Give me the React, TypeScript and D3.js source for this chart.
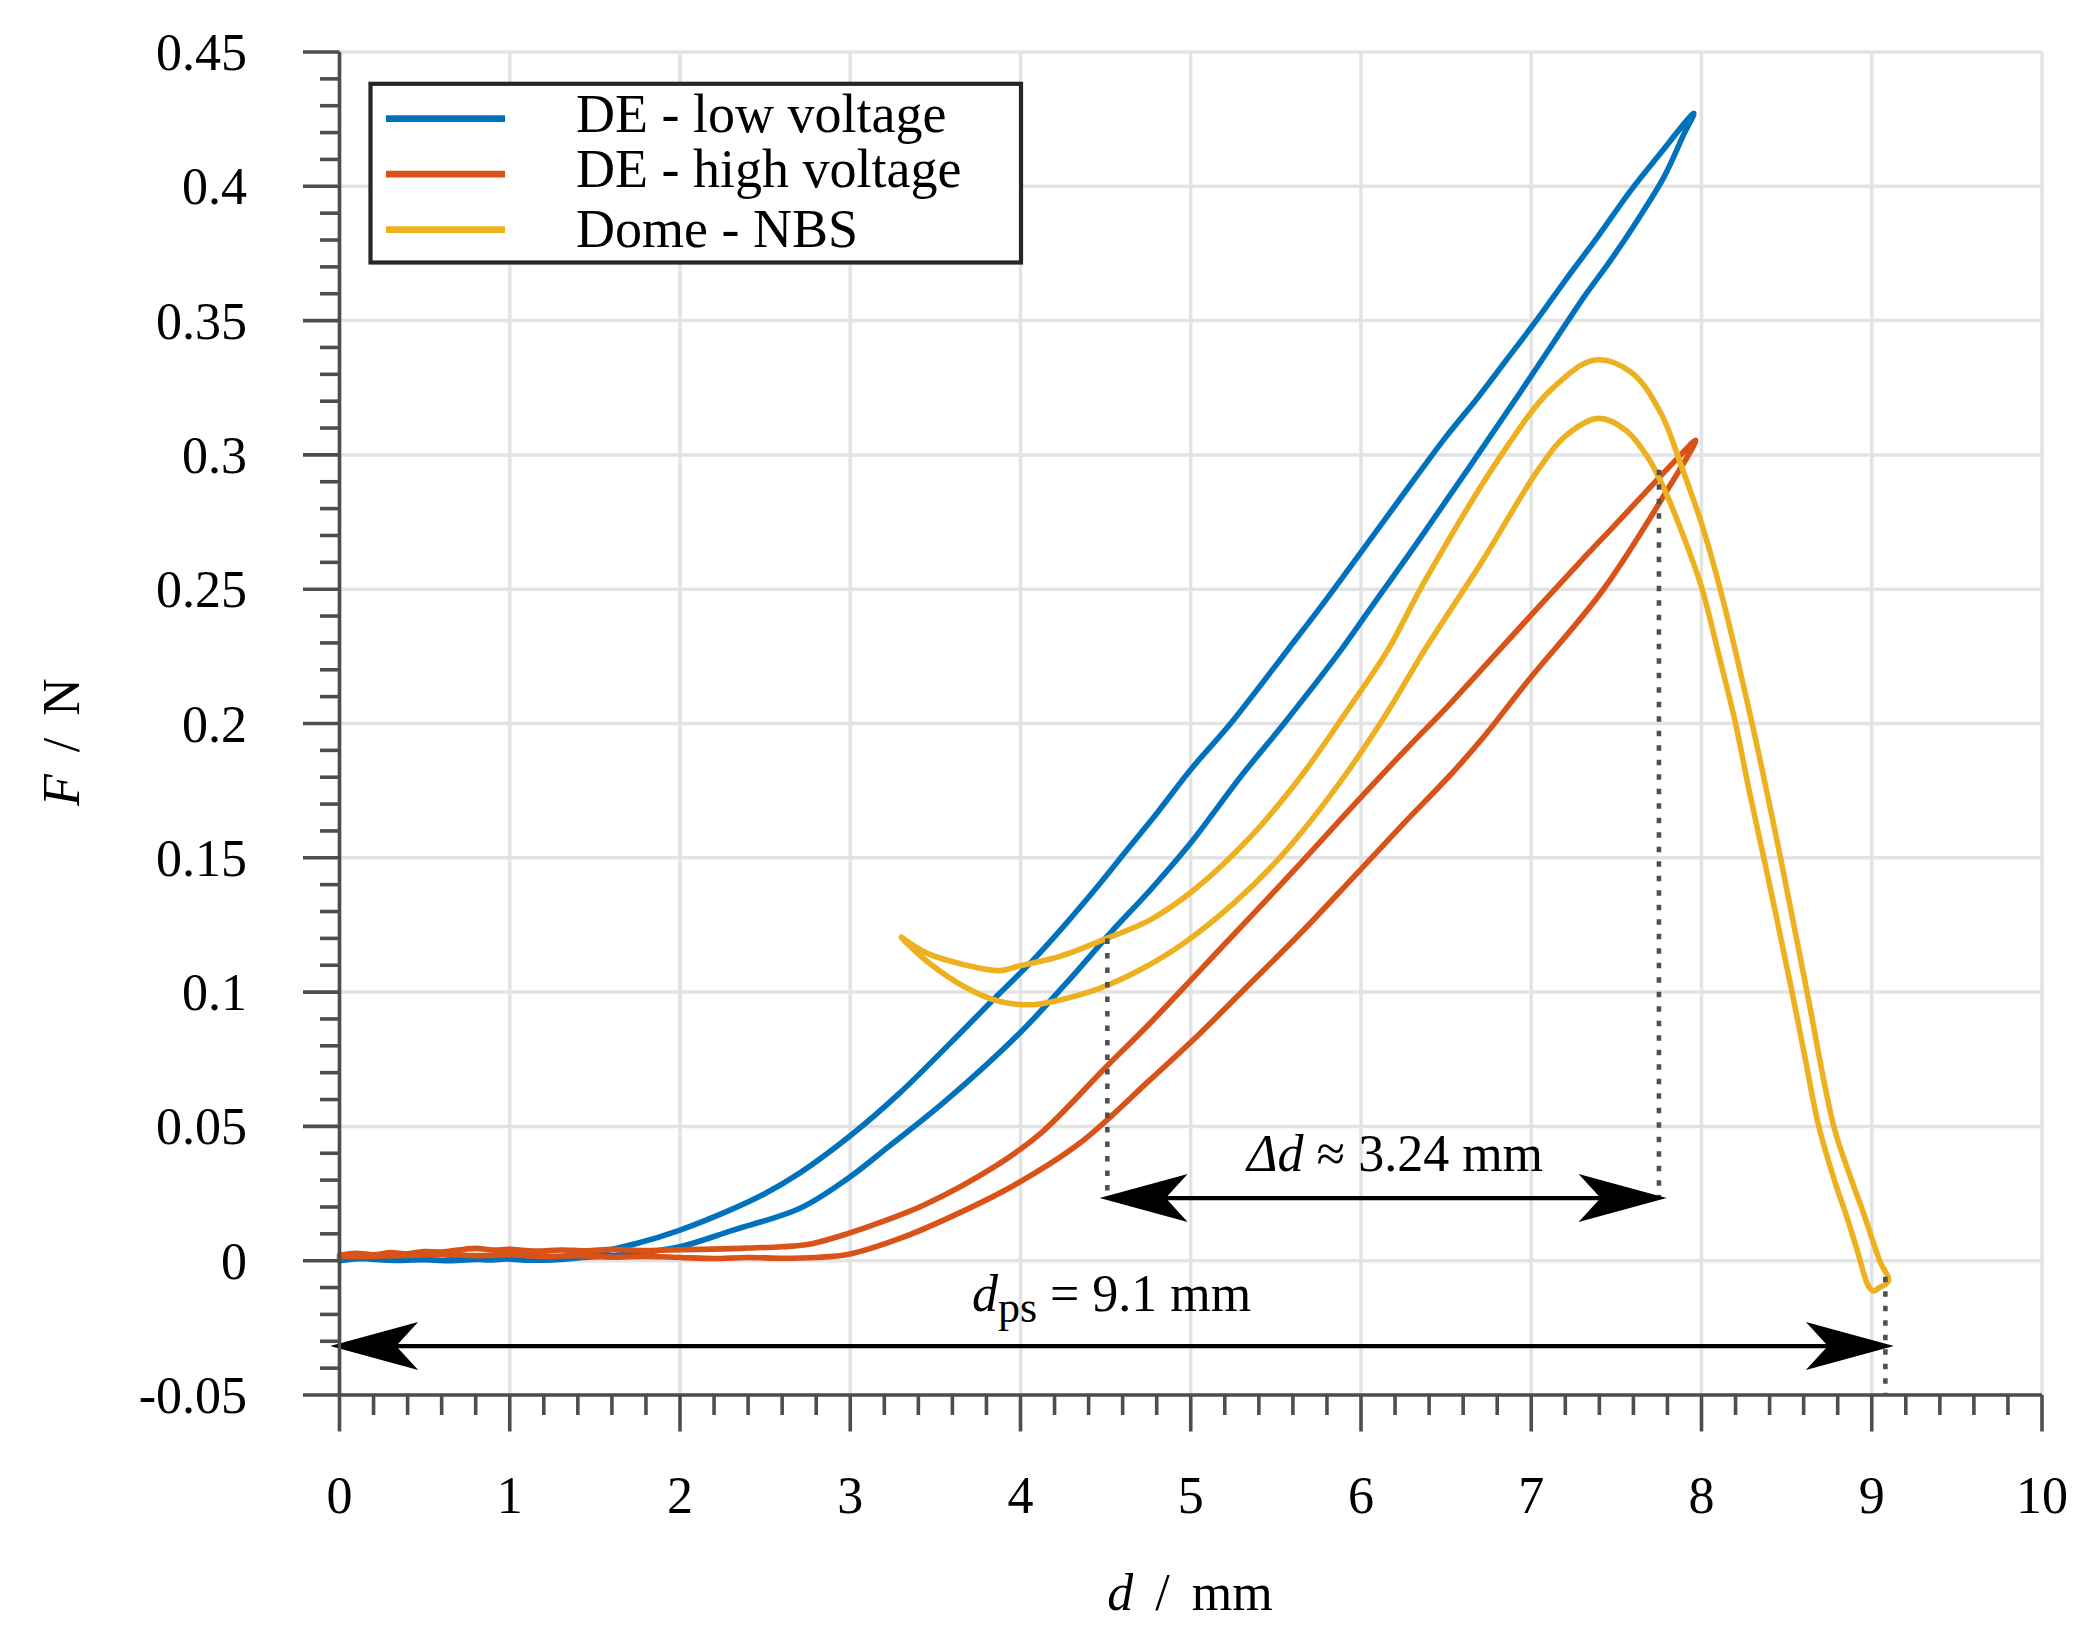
import * as d3 from "d3";

const W = 2096;
const H = 1647;
const FONT = '"Palatino Linotype", Palatino, "Book Antiqua", "Liberation Serif", "DejaVu Serif", serif';

// axis extents and ticks
const xDomain: [number, number] = [0, 10];
const yDomain: [number, number] = [-0.05, 0.45];
const xMajorTicks = [0, 1, 2, 3, 4, 5, 6, 7, 8, 9, 10];
const xTickLabels = ["0", "1", "2", "3", "4", "5", "6", "7", "8", "9", "10"];
const yMajorTicks = [-0.05, 0, 0.05, 0.1, 0.15, 0.2, 0.25, 0.3, 0.35, 0.4, 0.45];
const yTickLabels = ["-0.05", "0", "0.05", "0.1", "0.15", "0.2", "0.25", "0.3", "0.35", "0.4", "0.45"];

// DE - low voltage: out along the upper branch, back along the lower one
const deLowVoltage: [number, number][] = [
  [0, 0.0], [0.15, 0.0008], [0.3, 0.0002], [0.45, 0.0006], [0.6, 0.0001], [0.75, 0.0007],
  [0.9, 0.0003], [1.05, 0.0009], [1.2, 0.0008], [1.35, 0.0018], [1.5, 0.003], [1.75, 0.0065],
  [2.0, 0.0114], [2.3, 0.019], [2.5, 0.025], [2.7, 0.0325], [3.0, 0.0465], [3.285, 0.0621],
  [3.67, 0.0863], [3.878, 0.0996], [4.075, 0.112], [4.27, 0.1257], [4.468, 0.1405], [4.625, 0.1529],
  [4.8, 0.1665], [4.998, 0.1827], [5.234, 0.2], [5.568, 0.2273], [5.8, 0.2465], [6.32, 0.2915],
  [6.5, 0.3068], [6.688, 0.3215], [6.844, 0.3345], [7.039, 0.3508], [7.214, 0.3662], [7.39, 0.3812],
  [7.585, 0.3985], [7.741, 0.4109], [7.955, 0.4272],
  [7.897, 0.4195], [7.78, 0.4035], [7.624, 0.3874], [7.468, 0.3726], [7.312, 0.359], [7.156, 0.3442],
  [6.922, 0.322], [6.37, 0.271], [6.035, 0.241], [5.882, 0.2273], [5.548, 0.2], [5.293, 0.1802],
  [4.998, 0.1554], [4.762, 0.138], [4.527, 0.122], [4.27, 0.1034], [3.996, 0.0848], [3.556, 0.0593],
  [3.22, 0.0422], [2.99, 0.0308], [2.705, 0.0195], [2.313, 0.0114], [2.0, 0.0052], [1.726, 0.0027],
  [1.4, 0.001], [1.25, 0.0003], [1.1, 0.0002], [0.95, 0.0008], [0.8, 0.0005], [0.65, 0.0], [0.5, 0.0004],
  [0.35, 0.0001], [0.2, 0.0005], [0.05, 0.0012], [0, 0.001],
];

// DE - high voltage
const deHighVoltage: [number, number][] = [
  [0, 0.002], [0.1, 0.0028], [0.2, 0.0022], [0.3, 0.003], [0.4, 0.0026], [0.5, 0.0034], [0.6, 0.0032],
  [0.7, 0.004], [0.8, 0.0046], [0.9, 0.004], [1.0, 0.0042], [1.15, 0.0036], [1.3, 0.004], [1.45, 0.0037],
  [1.6, 0.0042], [1.8, 0.0038], [2.0, 0.0041], [2.2, 0.0043], [2.4, 0.0047], [2.6, 0.0052], [2.75, 0.006],
  [2.99, 0.0102], [3.2, 0.0148], [3.44, 0.0209], [3.85, 0.0351], [4.12, 0.0475], [4.507, 0.0724],
  [4.762, 0.0885], [5.057, 0.1083], [5.352, 0.1281], [5.646, 0.148], [5.941, 0.1685], [6.236, 0.1885],
  [6.53, 0.2078], [6.98, 0.239], [7.32, 0.2624], [7.486, 0.2735], [7.857, 0.2986], [7.966, 0.3055],
  [7.79, 0.286], [7.42, 0.2496], [6.98, 0.2158], [6.71, 0.1942], [6.53, 0.1812], [6.236, 0.1618],
  [5.941, 0.1418], [5.646, 0.122], [5.352, 0.1034], [5.057, 0.0848], [4.762, 0.0674], [4.345, 0.0436],
  [3.96, 0.028], [3.6, 0.0166], [3.3, 0.0085], [2.99, 0.0024], [2.8, 0.0012], [2.6, 0.0009],
  [2.4, 0.0012], [2.2, 0.0008], [2.0, 0.0012], [1.8, 0.0016], [1.6, 0.0013], [1.4, 0.0019],
  [1.2, 0.0016], [1.0, 0.0022], [0.8, 0.0019], [0.6, 0.0024], [0.4, 0.002], [0.2, 0.0017], [0, 0.0015],
];

// Dome - NBS: one loop starting at the left corner
const domeNbs: [number, number][] = [
  [3.3, 0.1204], [3.45, 0.1145], [3.62, 0.111], [3.878, 0.108], [3.996, 0.1098], [4.232, 0.1133],
  [4.507, 0.12], [4.762, 0.1269], [5.018, 0.138], [5.352, 0.1579], [5.646, 0.1802], [5.921, 0.205],
  [6.157, 0.2273], [6.37, 0.2525], [6.81, 0.2986], [7.115, 0.3242], [7.375, 0.3353], [7.59, 0.3306],
  [7.76, 0.3157], [7.89, 0.2944], [8.0, 0.2745], [8.11, 0.25], [8.297, 0.2], [8.464, 0.15], [8.62, 0.1],
  [8.777, 0.05], [8.87, 0.032], [8.953, 0.0175], [9.05, -0.0005], [9.1, -0.0072], [9.08, -0.0088],
  [9.04, -0.0102], [9.01, -0.0113], [8.98, -0.0094], [8.914, 0.004], [8.85, 0.017], [8.787, 0.0287],
  [8.689, 0.05], [8.61, 0.075], [8.532, 0.1], [8.45, 0.125], [8.366, 0.15], [8.28, 0.175], [8.2, 0.2],
  [8.1, 0.226], [8.004, 0.25], [7.925, 0.2645], [7.79, 0.286], [7.69, 0.2986], [7.553, 0.3093],
  [7.395, 0.3136], [7.2, 0.307], [7.04, 0.2944], [6.71, 0.2602], [6.373, 0.2273], [6.138, 0.2025],
  [5.843, 0.1752], [5.528, 0.1504], [5.253, 0.1331], [4.959, 0.1182], [4.703, 0.1083], [4.468, 0.1015],
  [4.193, 0.0965], [4.075, 0.0953], [3.878, 0.0965], [3.67, 0.102], [3.45, 0.1115], [3.32, 0.119],
  [3.3, 0.1204],
];

const seriesNames = ["DE - low voltage", "DE - high voltage", "Dome - NBS"];
const seriesColors = ["#0072BD", "#D95319", "#EDB120"];
const seriesData = [deLowVoltage, deHighVoltage, domeNbs];

// annotation geometry, in data units
const guideLines = [
  { x: 4.51, y0: 0.12, y1: 0.0233 },
  { x: 7.75, y0: 0.2945, y1: 0.0233 },
  { x: 9.08, y0: -0.006, y1: -0.05 },
];
const doubleArrows = [
  { x0: 4.465, x1: 7.795, y: 0.0233 },
  { x0: -0.055, x1: 9.13, y: -0.0318 },
];

export default function App() {
  const x = d3.scaleLinear().domain(xDomain).range([339.5, 2042]);
  const y = d3.scaleLinear().domain(yDomain).range([1395, 52]);

  const xMinor = d3.range(0, 10.001, 0.2).filter(v => Math.abs(v - Math.round(v)) > 1e-6);
  const yMinor = d3.range(-0.05, 0.4501, 0.01).filter(v => Math.abs(v * 20 - Math.round(v * 20)) > 1e-6);

  const line = d3.line<[number, number]>()
    .x(d => x(d[0])).y(d => y(d[1]))
    .curve(d3.curveCatmullRom.alpha(0.5));

  const axisColor = "#4d4d4d";
  const gridColor = "#e3e3e3";

  const arrowHead = (tx: number, ty: number, dir: number) =>
    `${tx},${ty} ${tx - dir * 88},${ty - 24} ${tx - dir * 66},${ty} ${tx - dir * 88},${ty + 24}`;

  const [x0, x1] = x.range();
  const [y0, y1] = y.range();

  return (
    <div style={{ position: "absolute", left: 0, top: 0, background: "#fff" }}>
      <svg width={W} height={H} style={{ display: "block" }} fontFamily={FONT} fontSize={52}>
        <rect width={W} height={H} fill="#fff" />

        {/* grid */}
        <g stroke={gridColor} strokeWidth={3.5}>
          {xMajorTicks.map(t => <line key={`gx${t}`} x1={x(t)} x2={x(t)} y1={y1} y2={y0} />)}
          {yMajorTicks.map(t => <line key={`gy${t}`} x1={x0} x2={x1} y1={y(t)} y2={y(t)} />)}
        </g>

        {/* curves */}
        <g fill="none" strokeWidth={5.6} strokeLinejoin="round" strokeLinecap="round">
          {seriesData.map((s, i) => <path key={i} d={line(s) ?? ""} stroke={seriesColors[i]} />)}
        </g>

        {/* dotted guides */}
        <g stroke="#505050" strokeWidth={4.6} strokeDasharray="5.5 9">
          {guideLines.map((g, i) => <line key={i} x1={x(g.x)} x2={x(g.x)} y1={y(g.y0)} y2={y(g.y1)} />)}
        </g>

        {/* double arrows */}
        {doubleArrows.map((a, i) => {
          const ax0 = x(a.x0), ax1 = x(a.x1), ay = y(a.y);
          return (
            <g key={i}>
              <line x1={ax0 + 60} x2={ax1 - 60} y1={ay} y2={ay} stroke="#000" strokeWidth={4.2} />
              <polygon points={arrowHead(ax0, ay, -1)} fill="#000" />
              <polygon points={arrowHead(ax1, ay, 1)} fill="#000" />
            </g>
          );
        })}

        {/* annotation texts */}
        <text x={x(6.2)} y={y(0.0334)} textAnchor="middle">
          <tspan fontStyle="italic">Δd</tspan>
          <tspan> ≈ 3.24 mm</tspan>
        </text>
        <text x={x(4.535)} y={y(-0.0187)} textAnchor="middle">
          <tspan fontStyle="italic">d</tspan>
          <tspan fontSize={44} dy={11}>ps</tspan>
          <tspan dy={-11}> = 9.1 mm</tspan>
        </text>

        {/* axes */}
        <g stroke={axisColor} strokeWidth={3.6}>
          <line x1={x0} x2={x0} y1={y1} y2={y0} />
          <line x1={x0} x2={x1} y1={y0} y2={y0} />
          {yMajorTicks.map(t => <line key={`ty${t}`} x1={x0 - 36.5} x2={x0} y1={y(t)} y2={y(t)} />)}
          {yMinor.map(t => <line key={`my${t}`} x1={x0 - 19.5} x2={x0} y1={y(t)} y2={y(t)} />)}
          {xMajorTicks.map(t => <line key={`tx${t}`} x1={x(t)} x2={x(t)} y1={y0} y2={y0 + 36.5} />)}
          {xMinor.map(t => <line key={`mx${t}`} x1={x(t)} x2={x(t)} y1={y0} y2={y0 + 20} />)}
        </g>

        {/* tick labels */}
        <g fill="#000">
          {yMajorTicks.map((t, i) => (
            <text key={`ly${t}`} x={247} y={y(t) + 18} textAnchor="end">{yTickLabels[i]}</text>
          ))}
          {xMajorTicks.map((t, i) => (
            <text key={`lx${t}`} x={x(t)} y={1513} textAnchor="middle">{xTickLabels[i]}</text>
          ))}
        </g>

        {/* axis titles */}
        <text x={1190} y={1610} textAnchor="middle">
          <tspan fontStyle="italic">d</tspan>
          <tspan dx={22}>/</tspan>
          <tspan dx={22}>mm</tspan>
        </text>
        <text transform="translate(79,742) rotate(-90)" textAnchor="middle">
          <tspan fontStyle="italic">F</tspan>
          <tspan dx={22}>/</tspan>
          <tspan dx={22}>N</tspan>
        </text>

        {/* legend */}
        <g>
          <rect x={370.5} y={83.8} width={650.5} height={178.7} fill="#fff" stroke="#262626" strokeWidth={4.2} />
          {seriesNames.map((name, i) => {
            const ly = 118.6 + i * 55.5;
            return (
              <g key={name}>
                <line x1={386} x2={505} y1={ly} y2={ly} stroke={seriesColors[i]} strokeWidth={6.8} />
                <text x={576} y={ly + 13 + (i === 2 ? 4 : 0)} fontSize={54}>{name}</text>
              </g>
            );
          })}
        </g>
      </svg>
    </div>
  );
}
